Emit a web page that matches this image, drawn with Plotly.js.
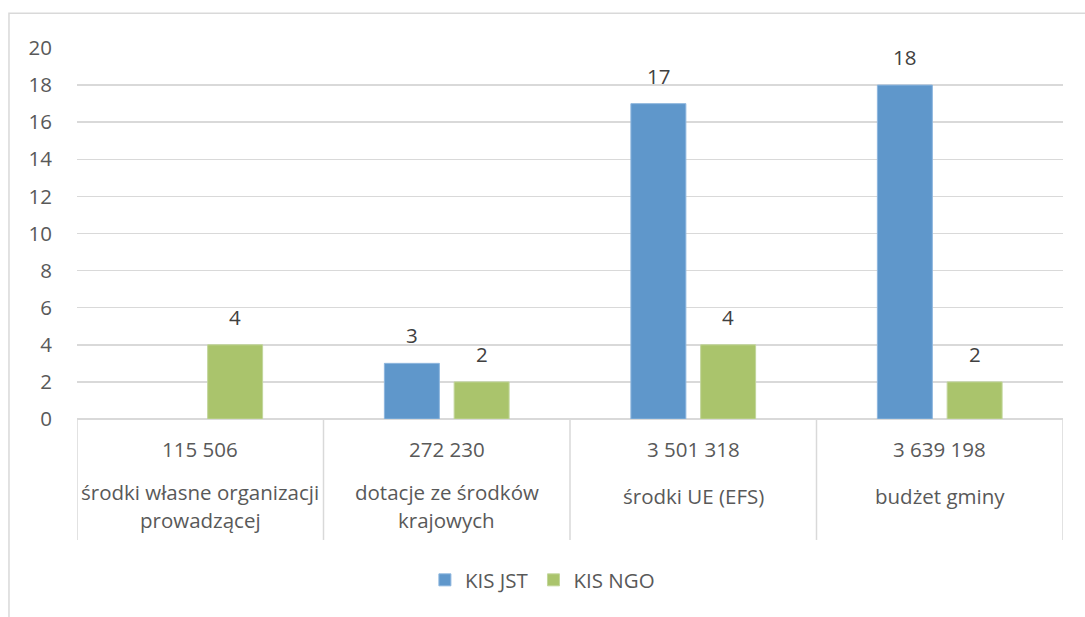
<!DOCTYPE html>
<html><head><meta charset="utf-8">
<script src="https://cdn.plot.ly/plotly-3.0.1.min.js"></script>
<style>html,body{margin:0;padding:0;background:#fff}#chart{width:1085px;height:617px}</style>
</head><body><div id="chart"></div>
<script>
const amounts = ["115 506", "272 230", "3 501 318", "3 639 198"];
const sources = ["środki własne organizacji<br>prowadzącej", "dotacje ze środków<br>krajowych", "środki UE (EFS)", "budżet gminy"];
const kisJST = [null, 3, 17, 18];
const kisNGO = [4, 2, 4, 2];
const seriesNames = ["KIS JST", "KIS NGO"];
const yTicks = [0, 2, 4, 6, 8, 10, 12, 14, 16, 18, 20];

const BLUE = "#5F97CB", GREEN = "#AAC46C";
const FONT = "'Open Sans', sans-serif";
const idx = amounts.map((_, i) => i);
const W = 0.223, OB = -0.253, OG = 0.03;

const traces = [
  {type: "bar", name: seriesNames[0], x: idx, y: kisJST, width: W, offset: OB,
   marker: {color: BLUE, line: {color: "#8DB6DE", width: 1}}, hoverinfo: "skip"},
  {type: "bar", name: seriesNames[1], x: idx, y: kisNGO, width: W, offset: OG,
   marker: {color: GREEN, line: {color: "#C2D69B", width: 1}}, hoverinfo: "skip"}
];

const ann = [];
const lblFont = {family: FONT, size: 20.5, color: "#404040"};
const axFont = {family: FONT, size: 20.5, color: "#595959"};
idx.forEach(i => {
  if (kisJST[i] != null) ann.push({x: i + OB + W / 2, y: kisJST[i], xref: "x", yref: "y", text: String(kisJST[i]), showarrow: false, yanchor: "bottom", yshift: 12, font: lblFont});
  if (kisNGO[i] != null) ann.push({x: i + OG + W / 2, y: kisNGO[i], xref: "x", yref: "y", text: String(kisNGO[i]), showarrow: false, yanchor: "bottom", yshift: 12, font: lblFont});
  ann.push({x: i, y: -0.081, xref: "x", yref: "paper", text: amounts[i], showarrow: false, yanchor: "middle", font: axFont});
  const lines = sources[i].split("<br>");
  lines.forEach((line, j) => {
    const y = lines.length > 1 ? -0.197 - j * 0.0755 : -0.2075;
    ann.push({x: i, y: y, xref: "x", yref: "paper", text: line, showarrow: false, yanchor: "middle", font: axFont});
  });
});

const shapes = [];
for (let k = 0; k <= amounts.length; k++) {
  shapes.push({type: "line", xref: "x", yref: "paper", x0: k - 0.5, x1: k - 0.5, y0: 0, y1: -0.326, line: {color: "#D9D9D9", width: 1.5}});
}
shapes.push({type: "rect", xref: "paper", yref: "paper", x0: -0.069, x1: 1.04, y0: -0.62, y1: 1.094, line: {color: "#D9D9D9", width: 1.5}, layer: "below"});

const layout = {
  width: 1085, height: 617,
  margin: {l: 77, r: 22, t: 48, b: 198},
  paper_bgcolor: "#fff", plot_bgcolor: "#fff",
  showlegend: true,
  legend: {orientation: "h", x: 0.472, xanchor: "center", y: -0.434, yanchor: "middle", font: axFont, itemwidth: 30, tracegroupgap: 0},
  xaxis: {range: [-0.5, 3.5], showticklabels: false, showgrid: false, zeroline: false, showline: false, fixedrange: true},
  yaxis: {range: [0, 20], tickvals: yTicks, ticktext: yTicks.map(String), showgrid: true, gridcolor: "#D9D9D9", gridwidth: 1.5,
          zeroline: true, zerolinecolor: "#D9D9D9", zerolinewidth: 1.5, showline: false, ticks: "", tickfont: axFont, ticklabelstandoff: 24},
  annotations: ann, shapes: shapes, bargap: 0
};
Plotly.newPlot("chart", traces, layout, {displayModeBar: false, staticPlot: true});
</script></body></html>
